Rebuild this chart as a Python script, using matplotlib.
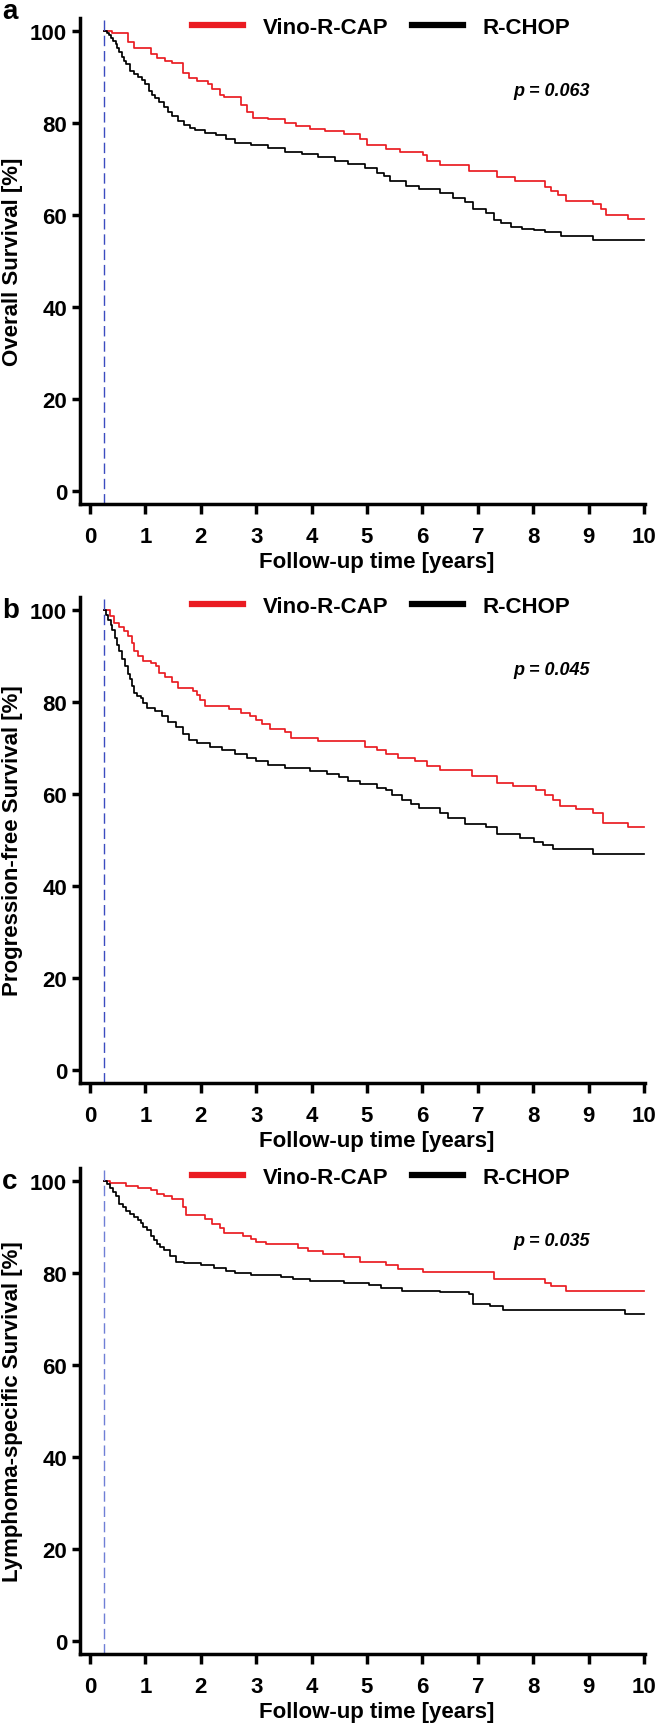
import matplotlib
matplotlib.use("Agg")
import matplotlib.pyplot as plt

plt.rcParams['font.family'] = ['Liberation Sans', 'DejaVu Sans']
plt.rcParams['font.weight'] = 'bold'

# ---- data ----
groups = ['Vino-R-CAP', 'R-CHOP']
landmark = 0.25
x_ticks = list(range(0, 11))
y_ticks = [0, 20, 40, 60, 80, 100]
panel_letters = ['a', 'b', 'c']
y_labels = ['Overall Survival [%]', 'Progression-free Survival [%]',
            'Lymphoma-specific Survival [%]']
p_values = ['p = 0.063', 'p = 0.045', 'p = 0.035']

# overall survival
os_red_t = [0.25, 0.40, 0.68, 0.80, 1.10, 1.21, 1.36, 1.48, 1.67, 1.78, 1.93, 2.12, 2.20,
            2.35, 2.42, 2.72, 2.84, 2.95, 3.22, 3.52, 3.71, 3.97, 4.24, 4.58, 4.88, 5.00,
            5.34, 5.60, 6.02, 6.09, 6.32, 6.85, 7.34, 7.68, 8.21, 8.32, 8.44, 8.59, 9.08,
            9.23, 9.31, 9.72]
os_red_s = [100, 99.5, 97.7, 96.3, 95.1, 94.2, 93.4, 93.0, 90.9, 89.7, 89.2, 88.6, 87.4,
            86.2, 85.6, 83.9, 82.3, 81.2, 80.8, 80.1, 79.4, 78.7, 78.3, 77.6, 76.5, 75.2,
            74.4, 73.8, 73.0, 71.8, 70.8, 69.5, 68.3, 67.5, 66.0, 65.2, 64.4, 63.0, 62.5,
            61.3, 60.1, 59.2]
os_blk_t = [0.25, 0.30, 0.34, 0.38, 0.42, 0.46, 0.49, 0.53, 0.57, 0.61, 0.65, 0.72, 0.80,
            0.87, 0.93, 0.99, 1.06, 1.12, 1.17, 1.25, 1.33, 1.40, 1.48, 1.59, 1.70, 1.80,
            1.89, 2.08, 2.27, 2.46, 2.61, 2.91, 3.22, 3.52, 3.82, 4.12, 4.43, 4.65, 4.96,
            5.18, 5.30, 5.41, 5.71, 5.94, 6.32, 6.55, 6.77, 6.92, 7.15, 7.30, 7.42, 7.60,
            7.79, 8.02, 8.21, 8.51, 9.08]
os_blk_s = [100, 99.6, 99.1, 98.5, 97.9, 97.2, 96.4, 95.4, 94.4, 93.6, 92.9, 91.3, 90.6,
            90.1, 89.3, 88.6, 87.0, 86.2, 85.4, 84.5, 83.5, 82.4, 81.5, 80.4, 79.6, 79.0,
            78.4, 77.8, 77.3, 76.5, 75.7, 75.2, 74.5, 73.8, 73.2, 72.6, 71.8, 71.0, 70.2,
            69.1, 68.4, 67.5, 66.4, 65.6, 64.8, 63.6, 62.9, 61.3, 60.5, 59.0, 58.2, 57.4,
            57.0, 56.8, 56.2, 55.5, 54.6]

# progression-free survival
pfs_red_t = [0.25, 0.36, 0.43, 0.53, 0.61, 0.68, 0.76, 0.80, 0.87, 0.95, 1.10, 1.19, 1.25,
             1.36, 1.48, 1.59, 1.86, 1.93, 1.99, 2.08, 2.50, 2.73, 2.88, 2.99, 3.10, 3.25,
             3.52, 3.63, 4.12, 4.96, 5.18, 5.34, 5.56, 5.86, 6.09, 6.32, 6.89, 7.34, 7.64,
             8.06, 8.21, 8.36, 8.48, 8.78, 9.08, 9.27, 9.72]
pfs_red_s = [100, 98.7, 97.1, 96.3, 95.5, 94.4, 92.8, 91.2, 90.1, 88.9, 88.5, 87.8, 86.4,
             85.4, 84.3, 83.1, 82.3, 81.6, 80.4, 79.2, 78.4, 77.7, 76.9, 76.1, 75.3, 74.2,
             73.4, 72.2, 71.6, 70.3, 69.5, 68.7, 67.9, 67.2, 66.0, 65.2, 64.0, 62.5, 61.7,
             60.9, 59.8, 58.6, 57.4, 56.7, 55.9, 53.7, 52.9]
pfs_blk_t = [0.25, 0.29, 0.33, 0.37, 0.40, 0.45, 0.49, 0.53, 0.58, 0.63, 0.68, 0.72, 0.76,
             0.80, 0.85, 0.91, 0.96, 1.02, 1.17, 1.29, 1.40, 1.55, 1.67, 1.78, 1.93, 2.16,
             2.39, 2.61, 2.84, 2.99, 3.22, 3.52, 3.97, 4.28, 4.50, 4.65, 4.88, 5.18, 5.34,
             5.45, 5.64, 5.79, 5.94, 6.32, 6.47, 6.77, 7.15, 7.34, 7.76, 8.02, 8.17, 8.36,
             9.08]
pfs_blk_s = [100, 99.0, 97.9, 96.7, 95.6, 94.0, 92.5, 91.0, 89.3, 87.8, 86.2, 85.0, 83.5,
             81.9, 81.3, 80.8, 79.8, 78.8, 78.1, 76.9, 75.7, 74.6, 73.0, 71.8, 71.1, 70.3,
             69.5, 68.7, 67.9, 67.2, 66.4, 65.6, 65.1, 64.4, 63.7, 62.9, 62.1, 61.3, 60.9,
             59.8, 58.6, 57.8, 57.0, 55.9, 54.7, 53.5, 52.8, 51.2, 50.4, 49.6, 48.9, 48.1,
             47.0]

# lymphoma-specific survival
lss_red_t = [0.25, 0.36, 0.65, 0.87, 1.10, 1.21, 1.33, 1.48, 1.67, 1.74, 2.08, 2.20, 2.35,
             2.42, 2.76, 2.91, 2.99, 3.18, 3.75, 3.94, 4.20, 4.58, 4.88, 5.34, 5.56, 6.02,
             7.30, 8.21, 8.32, 8.59]
lss_red_s = [100, 99.5, 98.9, 98.5, 98.1, 97.2, 96.8, 96.1, 94.3, 92.6, 91.8, 90.7, 89.7,
             88.8, 88.0, 87.3, 86.7, 86.3, 85.5, 84.9, 84.2, 83.5, 82.5, 81.7, 80.9, 80.2,
             78.8, 77.9, 77.1, 76.2]
lss_blk_t = [0.25, 0.30, 0.36, 0.41, 0.46, 0.53, 0.59, 0.65, 0.72, 0.80, 0.86, 0.91, 0.96,
             1.02, 1.10, 1.15, 1.21, 1.27, 1.33, 1.44, 1.55, 1.70, 2.01, 2.23, 2.46, 2.61,
             2.91, 3.44, 3.67, 3.97, 4.58, 5.03, 5.26, 5.64, 6.32, 6.85, 6.92, 7.23, 7.45,
             9.65]
lss_blk_s = [100, 99.3, 98.5, 97.6, 96.8, 95.1, 94.3, 93.5, 92.8, 92.2, 91.5, 90.9, 90.1,
             89.3, 88.0, 87.1, 86.3, 85.7, 85.1, 83.8, 82.5, 82.1, 81.7, 81.1, 80.4, 80.0,
             79.6, 79.2, 78.8, 78.2, 77.9, 77.5, 76.7, 76.2, 75.8, 75.4, 73.3, 72.9, 72.0,
             71.2]

curves = [((os_red_t, os_red_s), (os_blk_t, os_blk_s)),
          ((pfs_red_t, pfs_red_s), (pfs_blk_t, pfs_blk_s)),
          ((lss_red_t, lss_red_s), (lss_blk_t, lss_blk_s))]

RED = '#ea1c22'
BLACK = '#000000'
W, H = 657, 1724
fig = plt.figure(figsize=(W / 100, H / 100), dpi=100)

ax_left, ax_right = 79.6, 645
ax_h = 486
bottoms_px = [505, 1084, 1655]
letter_y_px = [12, 611, 1182]
dash_colors = ['#3b4cc0', '#3b4cc0', '#6f7fd6']

for i in range(3):
    b = bottoms_px[i]
    ax = fig.add_axes([ax_left / W, 1 - b / H, (ax_right - ax_left) / W, ax_h / H])
    (rt, rs), (bt, bs) = curves[i]
    ax.step(rt + [10.0], rs + [rs[-1]], where='post', color=RED, lw=1.25, label=groups[0])
    ax.step(bt + [10.0], bs + [bs[-1]], where='post', color=BLACK, lw=1.25, label=groups[1])
    ax.axvline(landmark, color=dash_colors[i], lw=1.0, dashes=(7.5, 3.5))

    ax.set_xlim(-0.19, 10.02)
    ax.set_ylim(-2.85, 102.85)
    ax.set_xticks(x_ticks)
    ax.set_yticks(y_ticks)
    for s in ['top', 'right']:
        ax.spines[s].set_visible(False)
    for s in ['left', 'bottom']:
        ax.spines[s].set_linewidth(2.5)
    ax.tick_params(axis='x', length=7, width=2.5, pad=9, labelsize=16)
    ax.tick_params(axis='y', length=6, width=2.5, pad=3, labelsize=16)

    ax.set_ylabel(y_labels[i], fontsize=16, fontweight='bold')
    ax.yaxis.set_label_coords(-0.100, 0.5)
    ax.set_xlabel('Follow-up time [years]', fontsize=16, fontweight='bold')
    ax.xaxis.set_label_coords(0.526, -0.096)

    leg = ax.legend(loc='center left', bbox_to_anchor=(0.1988, 0.9814), ncol=2,
                    frameon=False, borderpad=0, borderaxespad=0, handlelength=2.3,
                    handletextpad=0.9, columnspacing=1.04,
                    prop={'weight': 'bold', 'size': 16})
    for h in leg.legend_handles:
        h.set_linewidth(4.5)

    ax.text(7.64, 87.0, p_values[i], fontsize=13, fontweight='bold', style='italic',
            va='center', ha='left')

    fig.text(2 / W, 1 - letter_y_px[i] / H, panel_letters[i], fontsize=20,
             fontweight='bold', va='center', ha='left')

fig.savefig('out.png', dpi=100)
